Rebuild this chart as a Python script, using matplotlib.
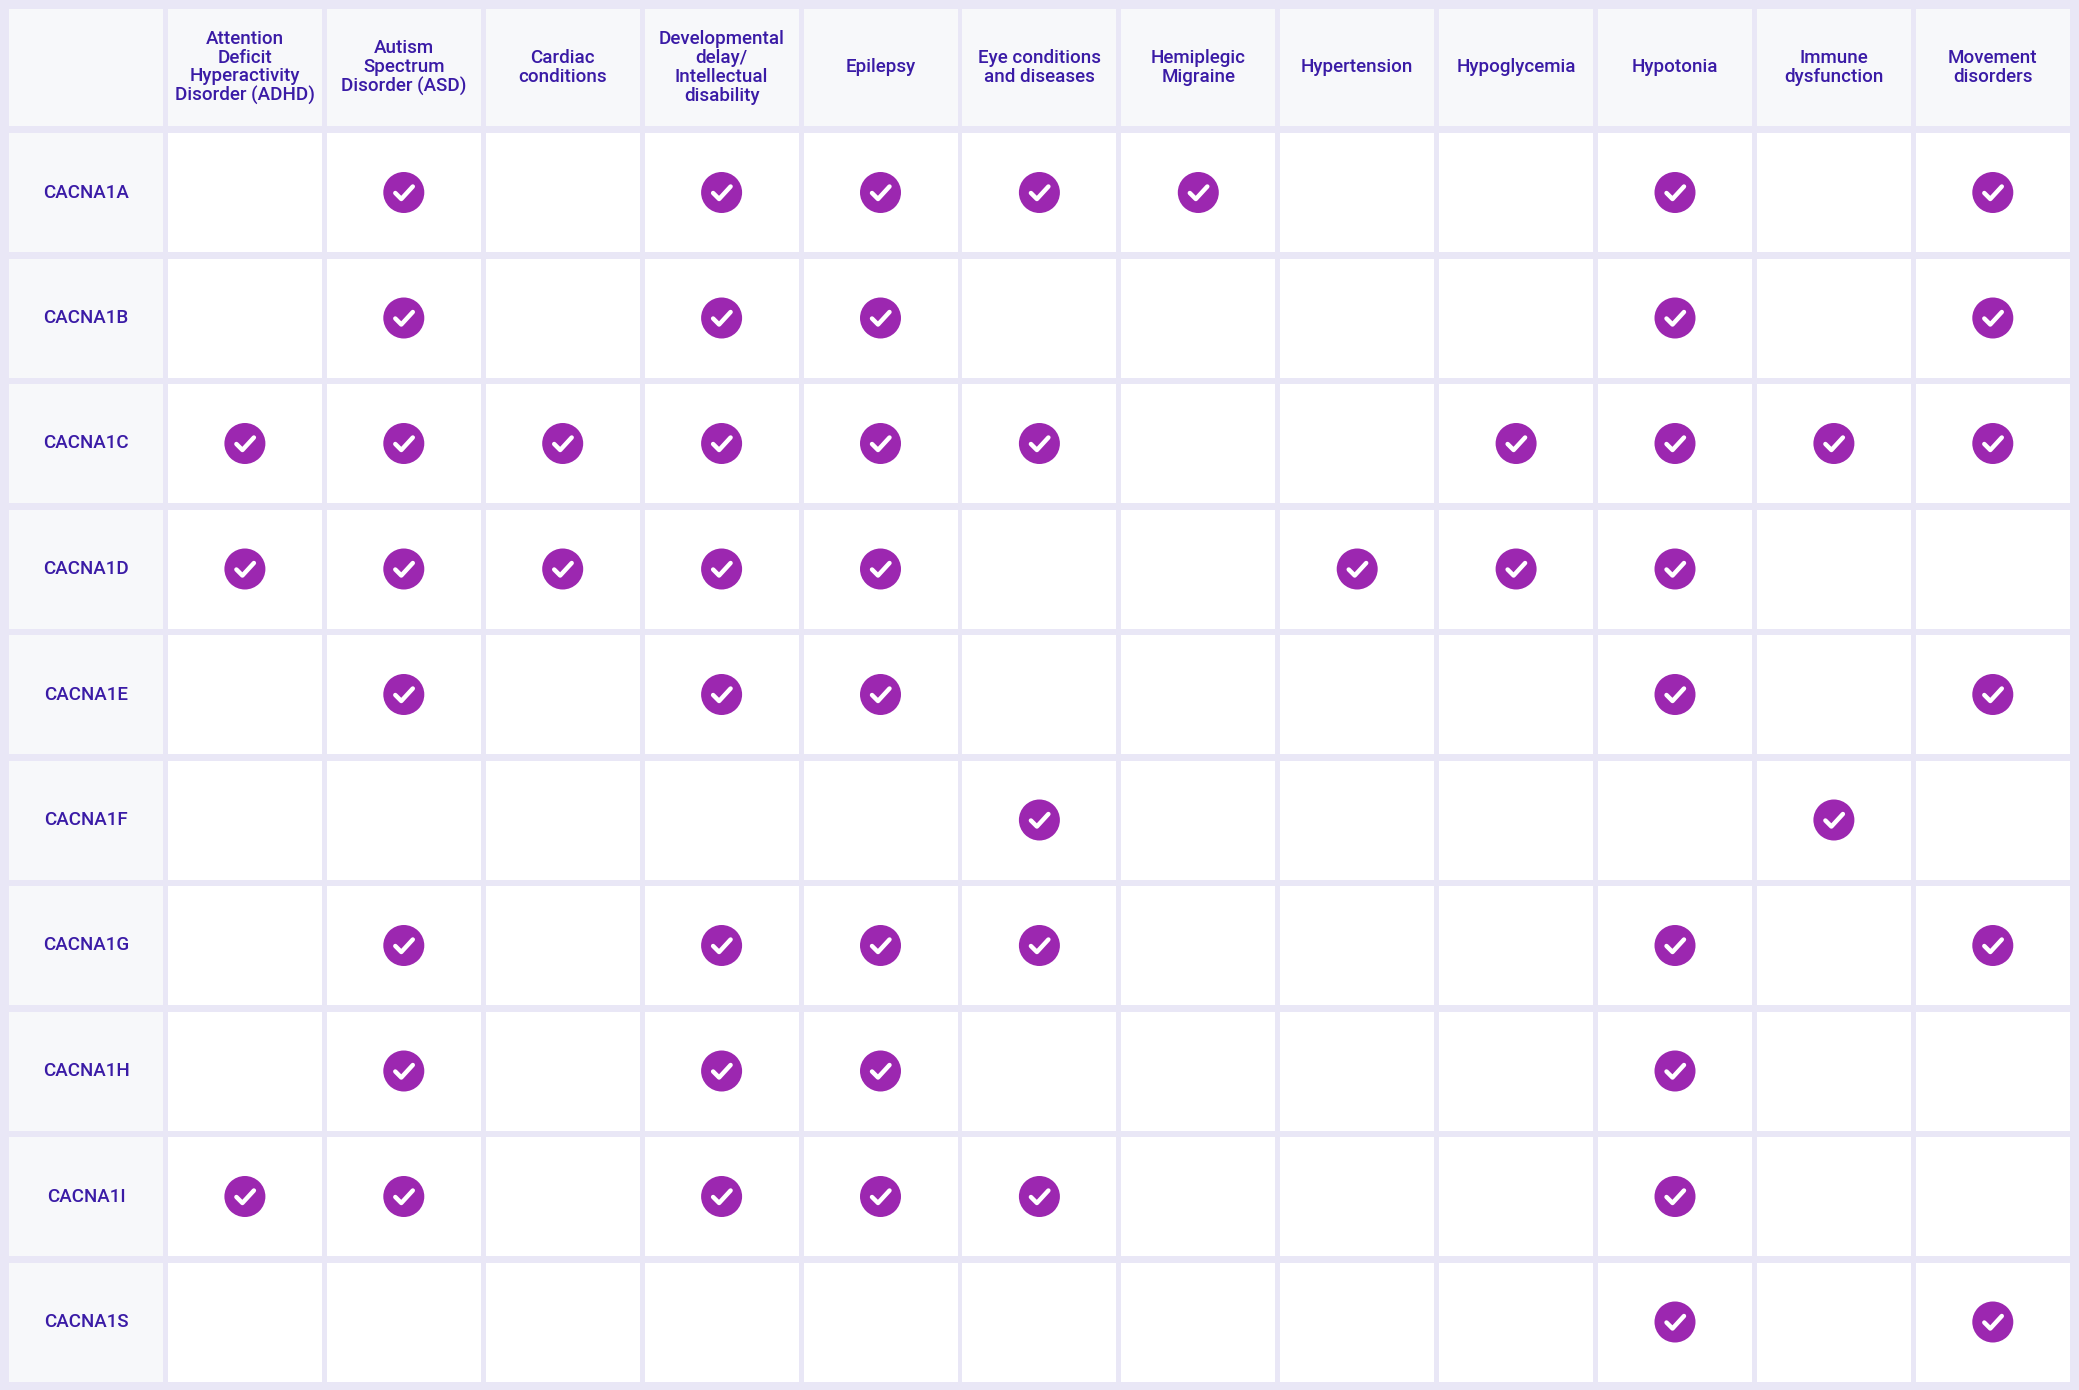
import matplotlib.pyplot as plt
from matplotlib.patches import Rectangle, Circle

# 疾病列与基因行
conditions = ["Attention\nDeficit\nHyperactivity\nDisorder (ADHD)", "Autism\nSpectrum\nDisorder (ASD)",
              "Cardiac\nconditions", "Developmental\ndelay/\nIntellectual\ndisability", "Epilepsy",
              "Eye conditions\nand diseases", "Hemiplegic\nMigraine", "Hypertension", "Hypoglycemia",
              "Hypotonia", "Immune\ndysfunction", "Movement\ndisorders"]
genes = ["CACNA1A", "CACNA1B", "CACNA1C", "CACNA1D", "CACNA1E",
         "CACNA1F", "CACNA1G", "CACNA1H", "CACNA1I", "CACNA1S"]
# 每个基因对应的列索引（打勾）
checks = {
    "CACNA1A": [1, 3, 4, 5, 6, 9, 11],
    "CACNA1B": [1, 3, 4, 9, 11],
    "CACNA1C": [0, 1, 2, 3, 4, 5, 8, 9, 10, 11],
    "CACNA1D": [0, 1, 2, 3, 4, 7, 8, 9],
    "CACNA1E": [1, 3, 4, 9, 11],
    "CACNA1F": [5, 10],
    "CACNA1G": [1, 3, 4, 5, 9, 11],
    "CACNA1H": [1, 3, 4, 9],
    "CACNA1I": [0, 1, 3, 4, 5, 9],
    "CACNA1S": [9, 11],
}

W, H = 2079, 1390
bg = "#E9E7F6"
cell_gray = "#F7F8FA"
txt = "#3A1BA6"
purple = "#9C27B0"

fig = plt.figure(figsize=(W / 100, H / 100), dpi=100, facecolor=bg)
ax = fig.add_axes([0, 0, 1, 1])
ax.set_xlim(0, W)
ax.set_ylim(H, 0)
ax.axis("off")

x0, y0 = 9, 9
cw, pitch_x = 154, 158.9
hh = 117
rh, pitch_y = 119, 125.5
row_top = y0 + hh + 7

def font(**kw):
    return dict(family=["Roboto", "DejaVu Sans"], color=txt, ha="center", va="center",
                fontweight="medium", **kw)

# 表头
ax.add_patch(Rectangle((x0, y0), cw, hh, color=cell_gray, lw=0))
for j, c in enumerate(conditions):
    x = x0 + (j + 1) * pitch_x
    ax.add_patch(Rectangle((x, y0), cw, hh, color=cell_gray, lw=0))
    ax.text(x + cw / 2, y0 + hh / 2, c, fontsize=13.5, linespacing=1.05, **font())

# 表体
for i, g in enumerate(genes):
    y = row_top + i * pitch_y
    ax.add_patch(Rectangle((x0, y), cw, rh, color=cell_gray, lw=0))
    ax.text(x0 + cw / 2, y + rh / 2, g, fontsize=13.5, **font())
    for j in range(len(conditions)):
        x = x0 + (j + 1) * pitch_x
        ax.add_patch(Rectangle((x, y), cw, rh, color="white", lw=0))
        if j in checks[g]:
            cx, cy = x + cw / 2, y + rh / 2
            ax.add_patch(Circle((cx, cy), 20.5, color=purple, lw=0))
            ax.plot([cx - 8.5, cx - 2.5, cx + 9], [cy + 0.5, cy + 6.5, cy - 6],
                    color="white", lw=3.2, solid_capstyle="round", solid_joinstyle="round")

fig.savefig("out.png", dpi=100, facecolor=bg)
